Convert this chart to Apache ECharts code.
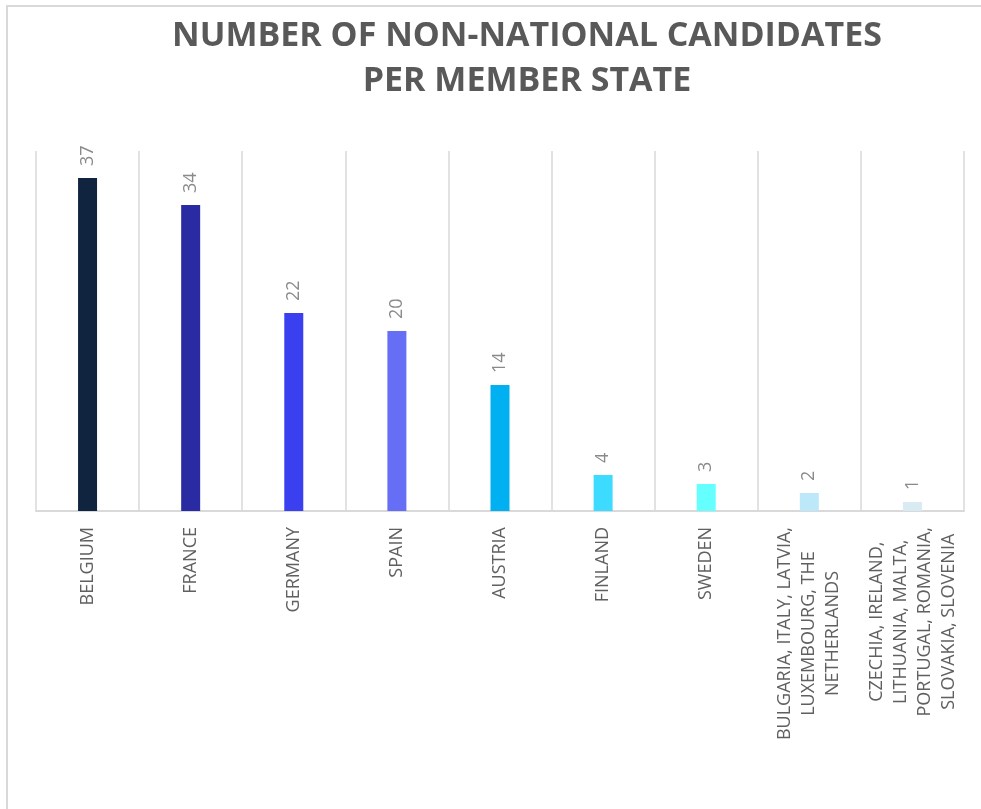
<!DOCTYPE html>
<html>
<head>
<meta charset="utf-8">
<script src="https://cdn.jsdelivr.net/npm/echarts@6/dist/echarts.min.js"></script>
<style>
  html, body { margin: 0; padding: 0; background: #fff; }
  #chart { width: 981px; height: 809px; }
</style>
</head>
<body>
<div id="chart"></div>
<script>
// data
const categories = [
    'BELGIUM',
    'FRANCE',
    'GERMANY',
    'SPAIN',
    'AUSTRIA',
    'FINLAND',
    'SWEDEN',
    'BULGARIA, ITALY, LATVIA,\nLUXEMBOURG, THE\nNETHERLANDS',
    'CZECHIA, IRELAND,\nLITHUANIA, MALTA,\nPORTUGAL, ROMANIA,\nSLOVAKIA, SLOVENIA'
];
const candidates = [37, 34, 22, 20, 14, 4, 3, 2, 1];
const barColors = ['#11243f', '#2a2aa2', '#3a40f0', '#666ef6', '#00b0f0', '#3ddbff', '#66ffff', '#bde8fa', '#d8ebf3'];

const textColor = '#595959';
const lineColor = '#d9d9d9';

var myChart = echarts.init(document.getElementById('chart'));

var option = {
    backgroundColor: '#fff',
    textStyle: { fontFamily: 'Open Sans' },
    title: {
        text: 'NUMBER OF NON-NATIONAL CANDIDATES\nPER MEMBER STATE',
        left: 522,
        top: 9,
        textAlign: 'center',
        textStyle: {
            fontFamily: 'Open Sans',
            fontWeight: 'bold',
            fontSize: 34,
            lineHeight: 45,
            color: textColor
        }
    },
    // outer frame (top and left edges only are visible)
    graphic: [
        { type: 'line', shape: { x1: 6, y1: 6, x2: 981, y2: 6 }, style: { stroke: lineColor, lineWidth: 2 } },
        { type: 'line', shape: { x1: 7, y1: 6, x2: 7, y2: 809 }, style: { stroke: lineColor, lineWidth: 2 } }
    ],
    grid: { left: 36, right: 17, top: 151, bottom: 298 },
    xAxis: {
        type: 'category',
        data: categories,
        axisTick: { show: false },
        axisLine: { lineStyle: { color: lineColor, width: 2 } },
        splitLine: { show: true, interval: 0, lineStyle: { color: lineColor, width: 1.5 } },
        axisLabel: {
            interval: 0,
            rotate: 90,
            margin: 16,
            color: textColor,
            fontSize: 18,
            lineHeight: 24,
            formatter: function (value) {
                return value.split('\n').map(function (s) { return '{c|' + s + '}'; }).join('\n');
            },
            rich: {
                c: { align: 'center', color: '#606060', fontSize: 18, lineHeight: 24, fontFamily: 'Open Sans' }
            }
        }
    },
    yAxis: {
        type: 'value',
        min: 0,
        max: 40,
        show: false,
        splitLine: { show: false }
    },
    series: [
        {
            type: 'bar',
            data: candidates.map(function (v, i) {
                return { value: v, itemStyle: { color: barColors[i] } };
            }),
            barWidth: 19,
            label: {
                show: true,
                position: 'top',
                rotate: 90,
                align: 'left',
                verticalAlign: 'middle',
                distance: 12,
                fontSize: 18,
                color: '#8a8a8a'
            }
        }
    ]
};

myChart.setOption(option);
</script>
</body>
</html>
